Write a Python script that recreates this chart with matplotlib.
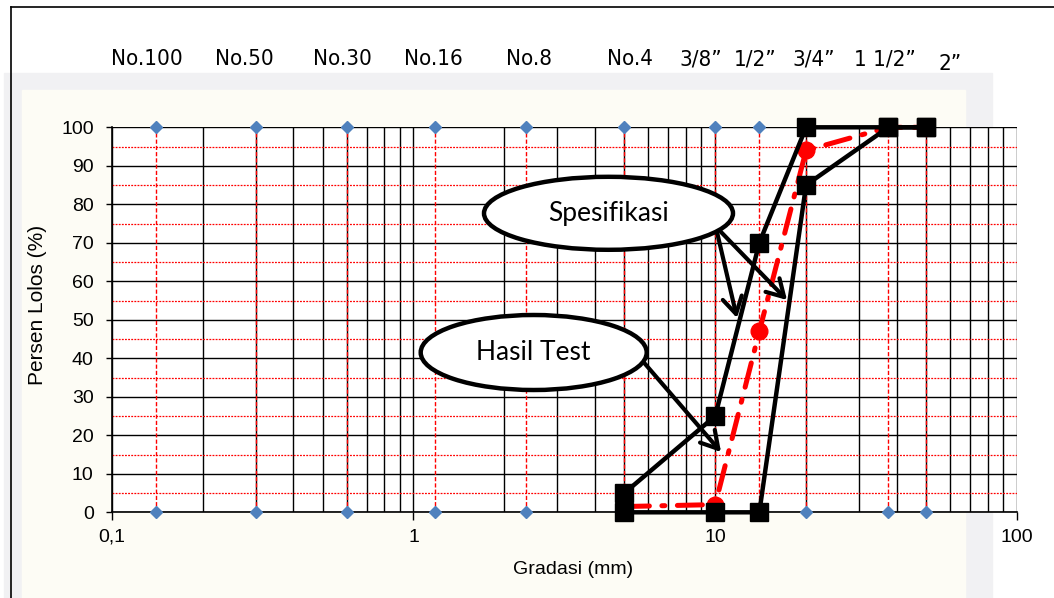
import numpy as np
import matplotlib.pyplot as plt
from matplotlib.patches import Ellipse, Rectangle
from matplotlib.lines import Line2D
from matplotlib.ticker import FixedLocator, LogLocator, NullFormatter, FuncFormatter
import matplotlib.transforms as mtransforms

# sieve sizes (mm) as placed on the chart, and their names
sieve_names = ['No.100', 'No.50', 'No.30', 'No.16', 'No.8', 'No.4',
               '3/8”', '1/2”', '3/4”', '1 1/2”', '2”']
sieve_mm = [0.14, 0.3, 0.6, 1.18, 2.36, 5, 10, 14, 20, 37.5, 50]
marker_top = [100, 100, 100, 100, 100, 100, 100, 100, 100, 100, 100]
marker_bottom = [0, 0, 0, 0, 0, 0, 0, 0, 0, 0, 0]

# specification envelope and test result (% passing)
spec_mm = [5, 10, 14, 20, 37.5, 50]
spec_upper = [5, 25, 70, 100, 100, 100]
spec_lower = [0, 0, 0, 85, 100, 100]
test_mm = [5, 10, 14, 20, 37.5, 50]
test_pass = [1.5, 2, 47, 94, 100, 100]

W, H = 1054, 598
fig = plt.figure(figsize=(W / 100, H / 100), dpi=100)
fig.patch.set_facecolor('white')

# faded scan background
fig.patches.append(Rectangle((4 / W, 0), (992 - 4) / W, (H - 73) / H,
                             transform=fig.transFigure, color='#F1F1F3', zorder=0))
fig.patches.append(Rectangle((22 / W, 0), (965 - 22) / W, (H - 90) / H,
                             transform=fig.transFigure, color='#FDFCF5', zorder=0))

# frame
fig.add_artist(Line2D([10.5 / W, 10.5 / W], [0, 1 - 7 / H], color='black', lw=1.2))
fig.add_artist(Line2D([10.5 / W, 1], [1 - 7 / H, 1 - 7 / H], color='black', lw=1.2))

L, R, T, B = 111.7, 1017, 127.3, 512.3
ax = fig.add_axes([L / W, 1 - B / H, (R - L) / W, (B - T) / H])
ax.set_facecolor('white')
ax.set_zorder(1)


def px(x, y):
    return ((x - L) / (R - L), (B - y) / (B - T))


ax.set_xscale('log')
ax.set_xlim(0.1, 100)
ax.set_ylim(0, 100)
ax.xaxis.set_major_locator(FixedLocator([0.1, 1, 10, 100]))
ax.xaxis.set_minor_locator(LogLocator(base=10, subs=np.arange(2, 10), numticks=20))
ax.xaxis.set_minor_formatter(NullFormatter())
ax.xaxis.set_major_formatter(FuncFormatter(lambda v, p: f'{v:g}'.replace('.', ',')))
ax.set_yticks(np.arange(0, 101, 10))
ax.set_yticks(np.arange(5, 100, 10), minor=True)

ax.grid(True, which='major', axis='both', color='black', lw=1)
ax.grid(True, which='minor', axis='x', color='black', lw=1)
ax.grid(True, which='minor', axis='y', color='red', lw=0.9, linestyle=(0, (1.5, 1)))
ax.tick_params(which='minor', length=0)
ax.tick_params(axis='x', which='major', length=5.5, width=1, pad=6.5, labelsize=14,
               labelfontfamily='Liberation Sans')
ax.tick_params(axis='y', which='major', length=4.5, width=1, pad=8.5, labelsize=14,
               labelfontfamily='Liberation Sans')
for s in ['top', 'right']:
    ax.spines[s].set_visible(False)
for s in ['left', 'bottom']:
    ax.spines[s].set_linewidth(1.2)

# sieve lines and markers
ax.vlines(sieve_mm, 0, 100, colors='red', lw=1, linestyles=(0, (3, 1.5)), zorder=2)
ax.plot(sieve_mm, marker_top, 'D', color='#4F81BD', ms=6.5, clip_on=False, zorder=3)
ax.plot(sieve_mm, marker_bottom, 'D', color='#4F81BD', ms=6.5, clip_on=False, zorder=3)

# test result
ax.plot(test_mm, test_pass, color='red', lw=3.6, linestyle=(0, (5, 2.5, 0.6, 2.5)),
        dash_capstyle='round', marker='o', ms=12, clip_on=False, zorder=4)

# specification envelope
ax.plot(spec_mm, spec_upper, '-s', color='black', lw=3.2, ms=13.5, clip_on=False, zorder=5)
ax.plot(spec_mm, spec_lower, '-s', color='black', lw=3.2, ms=13.5, clip_on=False, zorder=5)

ax.set_xlabel('Gradasi (mm)', fontsize=14, family='Liberation Sans', va='center')
ax.xaxis.set_label_coords(*px(573, 570))
ax.set_ylabel('Persen Lolos (%)', fontsize=15, family='Liberation Sans', va='center')
ax.yaxis.set_label_coords(*px(38, 305))

# sieve names along the top
name_dx = [-9, -11, -4, -2, 3, 6, -14, -4, 8, -4, 24]
name_dy = [0, 0, 0, 0, 0, 0, 0, 0, 0, 0, -5]
trans = mtransforms.blended_transform_factory(ax.transData, ax.transAxes)
for name, xm, dx, dy in zip(sieve_names, sieve_mm, name_dx, name_dy):
    ax.annotate(name, xy=(xm, px(0, 59)[1]), xycoords=trans,
                xytext=(dx * 0.72, dy * 0.72), textcoords='offset points',
                ha='center', va='center', fontsize=16, family='DejaVu Sans',
                fontstretch='condensed', annotation_clip=False)

# callouts
for (cx, cy, w, h, label) in [(608.5, 213.3, 249, 73, 'Spesifikasi'),
                              (533.7, 352.5, 226, 75, 'Hasil Test')]:
    c = px(cx, cy)
    ax.add_patch(Ellipse(c, w / (R - L), h / (B - T), transform=ax.transAxes,
                         fc='white', ec='black', lw=3.2, zorder=7, clip_on=False))
    ax.text(c[0], c[1], label, transform=ax.transAxes, ha='center', va='center',
            fontsize=19, family='Lato', zorder=8)

for start, tip in [((717, 232), (737, 318)), ((721, 232), (787, 300)),
                   ((640, 358), (721, 452))]:
    ax.annotate('', xy=px(*tip), xycoords='axes fraction',
                xytext=px(*start), textcoords='axes fraction',
                arrowprops=dict(arrowstyle='->,head_length=0.6,head_width=0.35',
                                lw=3, color='black', mutation_scale=20,
                                shrinkA=0, shrinkB=0),
                zorder=6)

fig.savefig('out.png', dpi=100, facecolor=fig.get_facecolor())
